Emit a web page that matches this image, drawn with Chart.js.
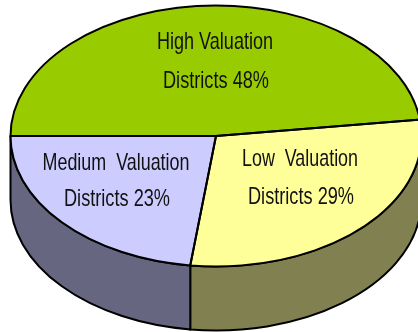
<!DOCTYPE html>
<html>
<head>
<meta charset="utf-8">
<title>Valuation districts</title>
<script src="https://cdn.jsdelivr.net/npm/chart.js@4"></script>
<style>
  html, body { margin: 0; padding: 0; background: #fff; }
  canvas { display: block; }
</style>
</head>
<body>
<canvas id="pie" width="418" height="332"></canvas>
<script>
const categories = ["High Valuation Districts", "Low Valuation Districts", "Medium Valuation Districts"];
const shares = [48, 29, 23];
const topColors = ["#99CC00", "#FFFF99", "#CCCCFF"];
const wallColors = ["#4D6600", "#808050", "#666680"];
const firstLines = ["High Valuation", "Low  Valuation", "Medium  Valuation"];
const secondLines = ["Districts 48%", "Districts 29%", "Districts 23%"];

const stretchX = 205.5 / 130.5;
const depth = 64;

const pie3d = {
  id: "pie3d",
  beforeDatasetsDraw(chart) {
    const { ctx } = chart;
    const arcs = chart.getDatasetMeta(0).data;
    ctx.save();
    ctx.lineWidth = 2;
    ctx.strokeStyle = "#000";
    arcs.forEach((arc, i) => {
      const from = Math.max(arc.startAngle, 0);
      const to = Math.min(arc.endAngle, Math.PI);
      if (to <= from) return;
      const rx = arc.outerRadius * stretchX;
      const ry = arc.outerRadius;
      ctx.beginPath();
      ctx.ellipse(arc.x, arc.y, rx, ry, 0, from, to);
      ctx.ellipse(arc.x, arc.y + depth, rx, ry, 0, to, from, true);
      ctx.closePath();
      ctx.fillStyle = wallColors[i];
      ctx.fill();
      ctx.stroke();
    });
    ctx.restore();

    // the library draws the top face, squeezed into an ellipse
    const cx = arcs[0].x;
    ctx.save();
    ctx.translate(cx, 0);
    ctx.scale(stretchX, 1);
    ctx.translate(-cx, 0);
  },
  afterDatasetsDraw(chart) {
    const { ctx } = chart;
    ctx.restore();
    const arcs = chart.getDatasetMeta(0).data;
    ctx.save();
    ctx.lineWidth = 2;
    ctx.strokeStyle = "#000";
    ctx.lineJoin = "round";
    arcs.forEach((arc) => {
      ctx.beginPath();
      ctx.moveTo(arc.x, arc.y);
      ctx.ellipse(arc.x, arc.y, arc.outerRadius * stretchX, arc.outerRadius, 0, arc.startAngle, arc.endAngle);
      ctx.closePath();
      ctx.stroke();
    });

    ctx.fillStyle = "#111";
    ctx.font = '24px "Liberation Sans"';
    ctx.textAlign = "center";
    ctx.textBaseline = "alphabetic";
    ctx.fillText(firstLines[0], 215, 49, 116);
    ctx.fillText(secondLines[0], 216, 88, 106);
    ctx.fillText(firstLines[1], 300, 166, 116);
    ctx.fillText(secondLines[1], 301, 204, 106);
    ctx.fillText(firstLines[2], 116, 170, 147);
    ctx.fillText(secondLines[2], 117, 206, 106);
    ctx.restore();
  }
};

new Chart(document.getElementById("pie"), {
  type: "pie",
  data: {
    labels: categories,
    datasets: [{
      data: shares,
      backgroundColor: topColors,
      borderWidth: 0,
      radius: 130.5,
      clip: false
    }]
  },
  options: {
    responsive: false,
    animation: false,
    rotation: -90,
    layout: { padding: { left: 14, right: 0, top: 0, bottom: 60 } },
    plugins: { legend: { display: false }, tooltip: { enabled: false } }
  },
  plugins: [pie3d]
});
</script>
</body>
</html>
